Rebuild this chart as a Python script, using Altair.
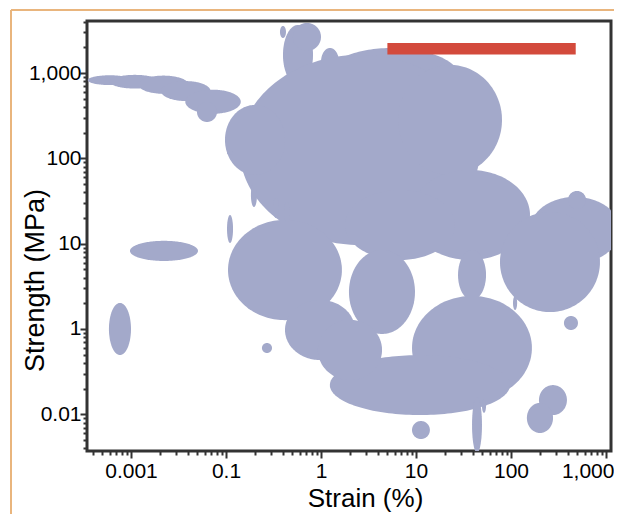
import altair as alt
import numpy as np
import pandas as pd

# ---- material-class envelopes: ranges of strain (%) and strength (MPa) ----
strain_lo = [0.00351, 0.00599, 0.0120, 0.0207, 0.0373, 0.0495, 0.398, 0.507, 0.370, 1.0,
             1.076, 0.140, 0.0976, 6.47, 8.65, 1.79, 158.5, 398, 76.6, 27.7,
             0.105, 0.418, 1.97, 9.08, 1.24, 0.929, 38.9, 9.08, 197, 147,
             361, 105, 49.5, 0.1025, 0.183, 0.313, 0.408, 0.1025, 0.239, 0.00975, 0.00586]
strain_hi = [0.0102, 0.0201, 0.0404, 0.0687, 0.143, 0.0804, 0.824, 1.0, 0.428, 1.546,
             29.0, 47.2, 0.418, 80.4, 158.5, 25.7, 1403, 616, 864, 54.6,
             1.66, 2.28, 9.76, 166, 97.6, 4.39, 49.5, 14.0, 388, 277,
             507, 116, 54.6, 0.1186, 0.212, 0.361, 0.472, 0.1186, 0.305, 0.0507, 0.0100]
strength_lo = [723, 658, 571, 470, 333, 267, 726, 1816, 2578, 925,
               390, 9.66, 63.9, 63.9, 6.44, 6.44, 5.94, 25.5, 1.58, 2.19,
               1.27, 0.433, 0.874, 0.147, 0.098, 0.252, 0.0352, 0.0513, 0.098, 0.0604,
               0.973, 1.67, 0.104, 10.2, 26.9, 20.0, 17.9, 110, 0.523, 6.27, 0.495]
strength_hi = [942, 952, 933, 805, 638, 459, 3664, 3866, 3565, 1968,
               1968, 1630, 423, 1245, 73.1, 42.6, 35.3, 41.5, 23.5, 8.44,
               19.0, 2.19, 8.44, 2.44, 0.495, 1.28, 0.160, 0.0834, 0.220, 0.136,
               1.42, 2.44, 0.151, 21.7, 51.5, 34.4, 30.8, 122, 0.685, 10.8, 2.02]

# highlighted range (red bar)
bar_strain = [5.0, 480.0]
bar_strength = [1650.0, 2250.0]

# axes
x_domain = [0.003443, 1129.0]
y_domain = [0.03715, 4074.0]
x_tick_values = [0.01, 0.1, 1, 10, 100, 1000]
x_tick_labels = ["0.001", "0.1", "1", "10", "100", "1,000"]
y_tick_values = [0.1, 1, 10, 100, 1000]
y_tick_labels = ["0.01", "1", "10", "100", "1,000"]

BLOB = "#a3a9ca"
RED = "#d34a3c"
FRAME = "#333333"
FONT = "Liberation Sans"

# ---- build envelope outlines (ellipses in log-log space) ----
t = np.linspace(0, np.pi, 81)
rows = []
for i, (a, b, c, d) in enumerate(zip(strain_lo, strain_hi, strength_lo, strength_hi)):
    cx, rx = (np.log10(a) + np.log10(b)) / 2, (np.log10(b) - np.log10(a)) / 2
    cy, ry = (np.log10(c) + np.log10(d)) / 2, (np.log10(d) - np.log10(c)) / 2
    xs = cx - rx * np.cos(t)
    hs = ry * np.sin(t)
    for xv, hv in zip(xs, hs):
        rows.append({"id": i, "strain": 10 ** xv,
                     "top": 10 ** (cy + hv), "bottom": 10 ** (cy - hv)})
df = pd.DataFrame(rows)


def log_ticks(lo, hi):
    vals = []
    for e in range(-4, 5):
        for k in range(1, 10):
            v = round(k * 10.0 ** e, 6)
            if lo <= v <= hi:
                vals.append(v)
    return vals


def major_test(majors):
    return " || ".join(f"abs(datum.value/{m} - 1) < 1e-6" for m in majors)


def label_expr(majors, labels):
    expr = "''"
    for m, lab in reversed(list(zip(majors, labels))):
        expr = f"abs(datum.value/{m} - 1) < 1e-6 ? '{lab}' : ({expr})"
    return expr


x_scale = alt.Scale(type="log", domain=x_domain, nice=False)
y_scale = alt.Scale(type="log", domain=y_domain, nice=False)

x_axis = alt.Axis(
    values=log_ticks(*x_domain), labelExpr=label_expr(x_tick_values, x_tick_labels),
    tickSize={"condition": {"test": major_test(x_tick_values), "value": 7}, "value": 4},
    tickWidth=2, tickColor=FRAME, domain=False, grid=False,
    labelFont=FONT, labelFontSize=21, labelColor="black", labelPadding=2,
    labelOverlap=False, labelFlush=15, labelFlushOffset=8,
    title="Strain (%)", titleFont=FONT, titleFontSize=26, titleFontWeight="normal",
    titleColor="black", titleX=278, titleY=47, titleBaseline="middle", titleAlign="center",
)
y_axis = alt.Axis(
    values=log_ticks(*y_domain), labelExpr=label_expr(y_tick_values, y_tick_labels),
    tickSize={"condition": {"test": major_test(y_tick_values), "value": 7}, "value": 4},
    tickWidth=2, tickColor=FRAME, domain=False, grid=False,
    labelFont=FONT, labelFontSize=21, labelColor="black", labelPadding=-1,
    labelOverlap=False, labelFlush=False,
    title="Strength (MPa)", titleFont=FONT, titleFontSize=27, titleFontWeight="normal",
    titleColor="black", titleX=-52, titleY=259, titleBaseline="middle", titleAlign="center",
    titleAngle=270,
)

blobs = alt.Chart(df).mark_area(color=BLOB, opacity=1, clip=True, interpolate="linear").encode(
    x=alt.X("strain:Q", scale=x_scale, axis=x_axis),
    y=alt.Y("top:Q", scale=y_scale, axis=y_axis),
    y2="bottom:Q",
    detail="id:N",
)

bar_df = pd.DataFrame({"s0": [bar_strain[0]], "s1": [bar_strain[1]],
                       "p0": [bar_strength[0]], "p1": [bar_strength[1]]})
bar = alt.Chart(bar_df).mark_rect(color=RED).encode(
    x=alt.X("s0:Q", scale=x_scale), x2="s1:Q",
    y=alt.Y("p0:Q", scale=y_scale), y2="p1:Q",
)

one = pd.DataFrame({"k": [0]})
border_top = alt.Chart(one).mark_rule(color="#e9b57d", strokeWidth=2).encode(
    x=alt.value(-76), x2=alt.value(540), y=alt.value(-11))
border_left = alt.Chart(one).mark_rule(color="#e9b57d", strokeWidth=2).encode(
    x=alt.value(-76), y=alt.value(-11), y2=alt.value(500))

chart = alt.layer(blobs, bar, border_top, border_left).properties(
    width=524, height=430,
    padding={"left": 79, "top": 13, "right": 3, "bottom": 63},
    autosize=alt.AutoSizeParams(type="none"),
    background="white",
).configure_view(stroke=FRAME, strokeWidth=3)

chart.save("out.html", embed_options={"renderer": "svg", "actions": False})
